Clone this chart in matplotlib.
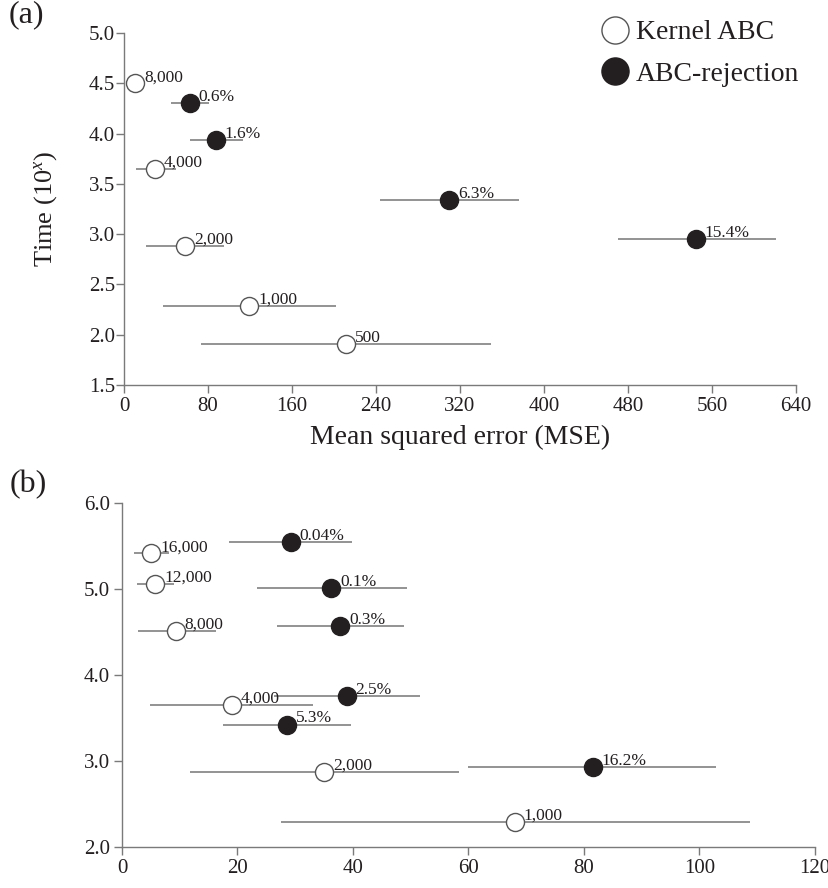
import matplotlib
matplotlib.use("Agg")
import matplotlib.pyplot as plt
import numpy as np
from matplotlib.lines import Line2D

# ---------------- data ----------------
a_kernel_labels = ['8,000', '4,000', '2,000', '1,000', '500']
a_kernel_mse = [10.5, 29.5, 58, 119.5, 211]
a_kernel_time = [4.50, 3.65, 2.88, 2.29, 1.91]
a_kernel_lo = [5, 11.5, 20.5, 37.5, 73.5]
a_kernel_hi = [16, 49.5, 95, 202, 349.5]

a_rej_labels = ['0.6%', '1.6%', '6.3%', '15.4%']
a_rej_mse = [62.5, 87.5, 310, 544.5]
a_rej_time = [4.30, 3.94, 3.34, 2.95]
a_rej_lo = [45, 63, 244, 470]
a_rej_hi = [80.5, 113.5, 376.5, 620.5]

b_kernel_labels = ['16,000', '12,000', '8,000', '4,000', '2,000', '1,000']
b_kernel_mse = [5.1, 5.8, 9.3, 19.0, 35.0, 68.0]
b_kernel_time = [5.41, 5.06, 4.51, 3.65, 2.87, 2.29]
b_kernel_lo = [2.1, 2.6, 2.7, 4.8, 11.8, 27.6]
b_kernel_hi = [8.2, 9.0, 16.3, 33.0, 58.3, 108.8]

b_rej_labels = ['0.04%', '0.1%', '0.3%', '2.5%', '5.3%', '16.2%']
b_rej_mse = [29.2, 36.2, 37.8, 38.9, 28.5, 81.5]
b_rej_time = [5.54, 5.01, 4.57, 3.75, 3.42, 2.93]
b_rej_lo = [18.6, 23.4, 26.9, 26.4, 17.5, 60.0]
b_rej_hi = [39.8, 49.3, 48.8, 51.6, 39.7, 102.9]

a_xticks = [0, 80, 160, 240, 320, 400, 480, 560, 640]
a_yticks = [1.5, 2.0, 2.5, 3.0, 3.5, 4.0, 4.5, 5.0]
b_xticks = [0, 20, 40, 60, 80, 100, 120]
b_yticks = [2.0, 3.0, 4.0, 5.0, 6.0]

# ---------------- style ----------------
plt.rcParams['font.family'] = ['Liberation Serif', 'DejaVu Serif']
plt.rcParams['mathtext.fontset'] = 'custom'
plt.rcParams['mathtext.rm'] = 'Liberation Serif'
plt.rcParams['mathtext.it'] = 'Liberation Serif:italic'
DARK = '#231f20'
GRAY = '#8a8a8a'
SPINE = '#7a7a7a'

fig = plt.figure(figsize=(8.29, 8.88), dpi=100)
ax_a = fig.add_axes([124/829, 1-385/888, 672/829, 352/888])
ax_b = fig.add_axes([122/829, 1-846.7/888, 693/829, 344/888])


def draw(ax, mse, time, lo, hi, labels, filled):
    mse = np.asarray(mse); time = np.asarray(time)
    xerr = np.vstack([mse - np.asarray(lo), np.asarray(hi) - mse])
    ax.errorbar(mse, time, xerr=xerr, fmt='none', ecolor=GRAY,
                elinewidth=1.3, capsize=0, zorder=2)
    if filled:
        ax.plot(mse, time, 'o', ms=13, mfc=DARK, mec=DARK, mew=1, zorder=3)
    else:
        ax.plot(mse, time, 'o', ms=13, mfc='white', mec='#555555', mew=1, zorder=3)
    for x, y, t in zip(mse, time, labels):
        ax.annotate(t, (x, y), xytext=(6.5, 1.5), textcoords='offset points',
                    ha='left', va='baseline', fontsize=12.5, color=DARK, zorder=4)


def style(ax, xlim, ylim, xt, yt, ypad):
    ax.set_xlim(*xlim); ax.set_ylim(*ylim)
    ax.set_xticks(xt); ax.set_yticks(yt)
    ax.set_yticklabels(['%.1f' % v for v in yt])
    ax.set_xticklabels(['%d' % v for v in xt])
    for s in ['top', 'right']:
        ax.spines[s].set_visible(False)
    for s in ['left', 'bottom']:
        ax.spines[s].set_color(SPINE)
        ax.spines[s].set_linewidth(1.0)
    ax.tick_params(direction='out', length=5.5, width=1, color=SPINE,
                   labelsize=15, labelcolor=DARK)
    ax.tick_params(axis='x', pad=3)
    ax.tick_params(axis='y', pad=ypad)
    ax.patch.set_alpha(0)


# Panel (a)
draw(ax_a, a_kernel_mse, a_kernel_time, a_kernel_lo, a_kernel_hi, a_kernel_labels, False)
draw(ax_a, a_rej_mse, a_rej_time, a_rej_lo, a_rej_hi, a_rej_labels, True)
style(ax_a, (0, 640), (1.5, 5.0), a_xticks, a_yticks, 1)
ax_a.set_xlabel('Mean squared error (MSE)', fontsize=20, color=DARK)
ax_a.xaxis.label.set_va('center')
ax_a.xaxis.set_label_coords(0.5, -0.148)
ax_a.set_ylabel('Time (10$^{\\mathit{x}}$)', fontsize=19, color=DARK)
ax_a.yaxis.set_label_coords(-0.097, 0.5)

handles = [Line2D([], [], ls='none', marker='o', ms=19.5, mfc='white', mec='#555555', mew=1),
           Line2D([], [], ls='none', marker='o', ms=19.5, mfc=DARK, mec=DARK, mew=1)]
fig.legend(handles, ['Kernel ABC', 'ABC-rejection'], loc='upper left',
           bbox_to_anchor=(601/829, 1-20/888), frameon=False, fontsize=20,
           handlelength=1.0, handletextpad=0.25, labelspacing=0.57,
           borderaxespad=0, borderpad=0, labelcolor=DARK)

# Panel (b)
draw(ax_b, b_kernel_mse, b_kernel_time, b_kernel_lo, b_kernel_hi, b_kernel_labels, False)
draw(ax_b, b_rej_mse, b_rej_time, b_rej_lo, b_rej_hi, b_rej_labels, True)
style(ax_b, (0, 120), (2.0, 6.0), b_xticks, b_yticks, 3)

fig.text(9/829, 1-0/888, '(a)', fontsize=23, color=DARK, ha='left', va='top')
fig.text(10/829, 1-470/888, '(b)', fontsize=23, color=DARK, ha='left', va='top')

fig.savefig('out.png', dpi=100)
